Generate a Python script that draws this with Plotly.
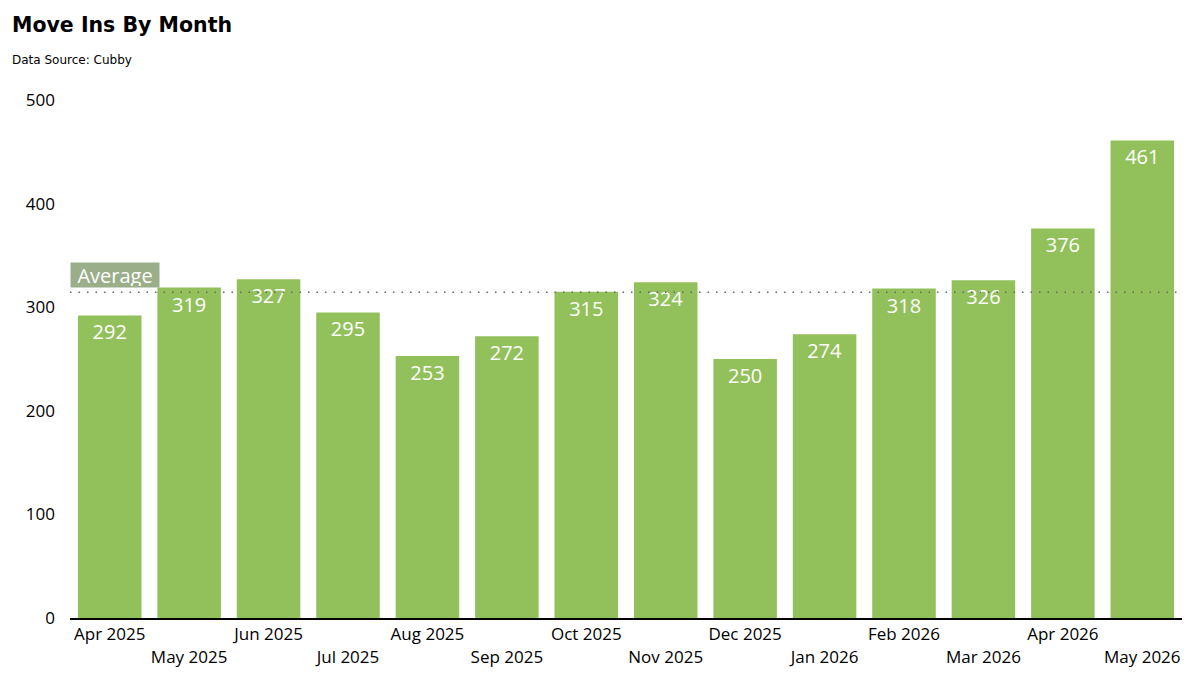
import plotly.graph_objects as go

months = ["Apr 2025", "May 2025", "Jun 2025", "Jul 2025", "Aug 2025", "Sep 2025", "Oct 2025",
          "Nov 2025", "Dec 2025", "Jan 2026", "Feb 2026", "Mar 2026", "Apr 2026", "May 2026"]
move_ins = [292, 319, 327, 295, 253, 272, 315, 324, 250, 274, 318, 326, 376, 461]
y_ticks = [0, 100, 200, 300, 400, 500]

average = sum(move_ins) / len(move_ins)
tick_text = [m if i % 2 == 0 else "<br>" + m for i, m in enumerate(months)]

W, H = 1200, 676
ml, mr, mt, mb = 70, 18, 100, 58
pw, ph = W - ml - mr, H - mt - mb

fig = go.Figure()
fig.add_trace(go.Bar(
    x=months, y=move_ins,
    marker=dict(color="#92C15B", line=dict(width=0)),
    text=[str(v) for v in move_ins],
    textposition="inside", insidetextanchor="end",
    textfont=dict(color="white", size=20, family="Open Sans"),
    constraintext="none",
    hoverinfo="skip",
))

fig.add_shape(type="line", xref="paper", yref="y", x0=0, x1=1, y0=average, y1=average,
              line=dict(color="#666666", width=1.5, dash="1.5px,7px"), layer="above")

fig.add_annotation(xref="paper", yref="y", x=0, y=average, xanchor="left", yanchor="bottom",
                   text="Average", showarrow=False, bgcolor="#9AAE8A",
                   font=dict(color="white", size=20, family="Open Sans"),
                   width=86, height=22, borderpad=1, yshift=4)

fig.add_annotation(xref="paper", yref="paper", x=(10 - ml) / pw, y=(H - mb - 25) / ph,
                   xanchor="left", yanchor="middle", text="<b>Move Ins By Month</b>",
                   showarrow=False, font=dict(family="DejaVu Sans", size=20.5, color="black"))
fig.add_annotation(xref="paper", yref="paper", x=(10 - ml) / pw, y=(H - mb - 60) / ph,
                   xanchor="left", yanchor="middle", text="Data Source: Cubby",
                   showarrow=False, font=dict(family="DejaVu Sans", size=12, color="black"))

fig.update_layout(
    width=W, height=H,
    margin=dict(l=ml, r=mr, t=mt, b=mb, autoexpand=False),
    paper_bgcolor="white", plot_bgcolor="white",
    bargap=0.2, showlegend=False,
    font=dict(family="Open Sans", color="black"),
    xaxis=dict(tickmode="array", tickvals=months, ticktext=tick_text, automargin=False,
               tickangle=0, showgrid=False, showline=True, linecolor="black", linewidth=2,
               ticks="", tickfont=dict(size=17, family="Open Sans")),
    yaxis=dict(range=[0, 500], tickvals=y_ticks, showgrid=False, zeroline=False, automargin=False,
               showline=False, ticks="", tickfont=dict(size=17, family="Open Sans"),
               ticklabelstandoff=14),
)

fig.write_html("out.html")
